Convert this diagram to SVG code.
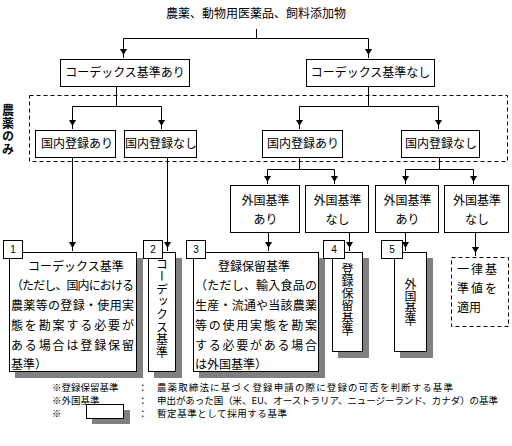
<svg xmlns="http://www.w3.org/2000/svg" width="512" height="446" viewBox="0 0 512 446">
<style>
text{font-family:"Noto Sans CJK JP","Noto Sans CJK SC",sans-serif;font-size:12px;fill:#000}
.c{text-anchor:middle}
.box{fill:#fff;stroke:#000;stroke-width:1}
.dash{fill:none;stroke:#000;stroke-width:1;stroke-dasharray:4 3}
.sh{fill:#808080}
.ln{fill:none;stroke:#000;stroke-width:1}
.v{writing-mode:vertical-rl}
.num{font-family:"Liberation Sans",sans-serif;font-size:10px;text-anchor:middle}
.ft{font-size:9.5px}
</style>
<defs>
<path id="ah" d="M-3.5,-6 L3.5,-6 L0,0 Z" fill="#000"/>
</defs>

<text class="c" x="256" y="18">農薬、動物用医薬品、飼料添加物</text>

<rect class="dash" x="29.5" y="95.5" width="478" height="66"/>
<text class="v" x="8" y="104" style="font-weight:bold;letter-spacing:1px">農薬のみ</text>

<g id="connectors">
<path class="ln" d="M256.5,29 V38.5 M123.5,38.5 H368.5 M123.5,38.5 V58 M368.5,38.5 V58"/>
<use href="#ah" x="123.5" y="55"/><use href="#ah" x="368.5" y="55"/>
<path class="ln" d="M116.5,86.5 V106.5 M72.5,106.5 H161.5 M72.5,106.5 V129 M161.5,106.5 V129"/>
<use href="#ah" x="72.5" y="126"/><use href="#ah" x="161.5" y="126"/>
<path class="ln" d="M368.5,86.5 V106.5 M299.5,106.5 H438.5 M299.5,106.5 V129 M438.5,106.5 V129"/>
<use href="#ah" x="299.5" y="126"/><use href="#ah" x="438.5" y="126"/>
<path class="ln" d="M72.5,157.5 V251 M167.5,157.5 V251"/>
<use href="#ah" x="72.5" y="248"/><use href="#ah" x="167.5" y="248"/>
<path class="ln" d="M299.5,157.5 V169.5 M267.5,169.5 H334.5 M267.5,169.5 V184 M334.5,169.5 V184"/>
<use href="#ah" x="267.5" y="182"/><use href="#ah" x="334.5" y="182"/>
<path class="ln" d="M439.5,157.5 V169.5 M405.5,169.5 H473.5 M405.5,169.5 V184 M473.5,169.5 V184"/>
<use href="#ah" x="405.5" y="182"/><use href="#ah" x="473.5" y="182"/>
<path class="ln" d="M268.5,232.5 V251 M349.5,232.5 V251 M405.5,232.5 V251 M475.5,232.5 V256"/>
<use href="#ah" x="268.5" y="248"/><use href="#ah" x="349.5" y="248"/><use href="#ah" x="405.5" y="248"/><use href="#ah" x="475.5" y="253"/>
</g>

<g id="codex-yes"><rect class="box" x="60.5" y="59.5" width="129" height="27"/><text class="c" x="125" y="77">コーデックス基準あり</text></g>
<g id="codex-no"><rect class="box" x="306.5" y="59.5" width="128" height="27"/><text class="c" x="370.5" y="77">コーデックス基準なし</text></g>

<g id="dom-yes-1"><rect class="box" x="35.5" y="130.5" width="80" height="27"/><text class="c" x="77" y="148">国内登録あり</text></g>
<g id="dom-no-1"><rect class="box" x="124.5" y="130.5" width="72" height="27"/><text class="c" x="161" y="148">国内登録なし</text></g>
<g id="dom-yes-2"><rect class="box" x="262.5" y="130.5" width="80" height="27"/><text class="c" x="303" y="148">国内登録あり</text></g>
<g id="dom-no-2"><rect class="box" x="401.5" y="130.5" width="78" height="27"/><text class="c" x="441" y="148">国内登録なし</text></g>

<g id="for-yes-1"><rect class="box" x="230.5" y="185.5" width="69" height="47"/><text class="c" x="265.5" y="205">外国基準</text><text class="c" x="265.5" y="224">あり</text></g>
<g id="for-no-1"><rect class="box" x="305.5" y="185.5" width="63" height="47"/><text class="c" x="337.5" y="205">外国基準</text><text class="c" x="337.5" y="224">なし</text></g>
<g id="for-yes-2"><rect class="box" x="375.5" y="185.5" width="63" height="47"/><text class="c" x="407.5" y="205">外国基準</text><text class="c" x="407.5" y="224">あり</text></g>
<g id="for-no-2"><rect class="box" x="444.5" y="185.5" width="64" height="47"/><text class="c" x="477" y="205">外国基準</text><text class="c" x="477" y="224">なし</text></g>

<g id="res1">
<rect class="sh" x="15" y="258" width="128" height="120"/>
<rect class="box" x="9.5" y="252.5" width="127" height="119"/>
<rect class="box" x="3.5" y="240.5" width="19" height="18"/>
<text class="num" x="13" y="253">1</text>
<text x="28" y="271">コーデックス基準</text>
<text x="11" y="290" textLength="123" lengthAdjust="spacing">（ただし、国内における</text>
<text x="11" y="310" textLength="123" lengthAdjust="spacing">農薬等の登録・使用実</text>
<text x="11" y="330" textLength="123" lengthAdjust="spacing">態を勘案する必要が</text>
<text x="11" y="350" textLength="123" lengthAdjust="spacing">ある場合は登録保留</text>
<text x="11" y="369">基準）</text>
</g>

<g id="res2">
<rect class="sh" x="154" y="258" width="28" height="120"/>
<rect class="box" x="148.5" y="252.5" width="27" height="119"/>
<rect class="box" x="143.5" y="240.5" width="19" height="18"/>
<text class="num" x="153" y="253">2</text>
<text class="v" x="162" y="258" style="letter-spacing:0.6px">コーデックス基準</text>
</g>

<g id="res3">
<rect class="sh" x="199" y="258" width="126" height="120"/>
<rect class="box" x="193.5" y="252.5" width="125" height="119"/>
<rect class="box" x="186.5" y="240.5" width="19" height="18"/>
<text class="num" x="196" y="253">3</text>
<text x="218" y="271">登録保留基準</text>
<text x="195" y="290" textLength="122" lengthAdjust="spacing">（ただし、輸入食品の</text>
<text x="195" y="310" textLength="122" lengthAdjust="spacing">生産・流通や当該農薬</text>
<text x="195" y="330" textLength="122" lengthAdjust="spacing">等の使用実態を勘案</text>
<text x="195" y="350" textLength="122" lengthAdjust="spacing">する必要がある場合</text>
<text x="195" y="369">は外国基準）</text>
</g>

<g id="res4">
<rect class="sh" x="338" y="258" width="31" height="100"/>
<rect class="box" x="332.5" y="252.5" width="30" height="99"/>
<rect class="box" x="323.5" y="240.5" width="21" height="18"/>
<text class="num" x="334" y="253">4</text>
<text class="v" x="347.5" y="263" style="letter-spacing:0.3px">登録保留基準</text>
</g>

<g id="res5">
<rect class="sh" x="400" y="258" width="33" height="100"/>
<rect class="box" x="394.5" y="252.5" width="32" height="99"/>
<rect class="box" x="381.5" y="240.5" width="21" height="18"/>
<text class="num" x="392" y="253">5</text>
<text class="v" x="410.5" y="278">外国基準</text>
</g>

<g id="res6">
<rect class="dash" x="451.5" y="257.5" width="57" height="69"/>
<text x="457" y="274" textLength="40" lengthAdjust="spacing">一律基</text>
<text x="457" y="293" textLength="40" lengthAdjust="spacing">準値を</text>
<text x="457" y="312">適用</text>
</g>

<g id="legend">
<text class="ft" x="52" y="390.5">※登録保留基準</text>
<text class="ft" x="138" y="390.5">：</text>
<text class="ft" x="157" y="390.5" textLength="296" lengthAdjust="spacing">農薬取締法に基づく登録申請の際に登録の可否を判断する基準</text>
<text class="ft" x="52" y="403.5">※外国基準</text>
<text class="ft" x="138" y="403.5">：</text>
<text class="ft" x="157" y="403.5" textLength="341" lengthAdjust="spacing">申出があった国（米、EU、オーストラリア、ニュージーランド、カナダ）の基準</text>
<text class="ft" x="52" y="416.5">※</text>
<rect class="sh" x="92" y="410" width="38" height="14"/>
<rect class="box" x="86.5" y="404.5" width="37" height="14"/>
<text class="ft" x="138" y="416.5">：</text>
<text class="ft" x="157" y="416.5" textLength="130" lengthAdjust="spacing">暫定基準として採用する基準</text>
</g>
</svg>
